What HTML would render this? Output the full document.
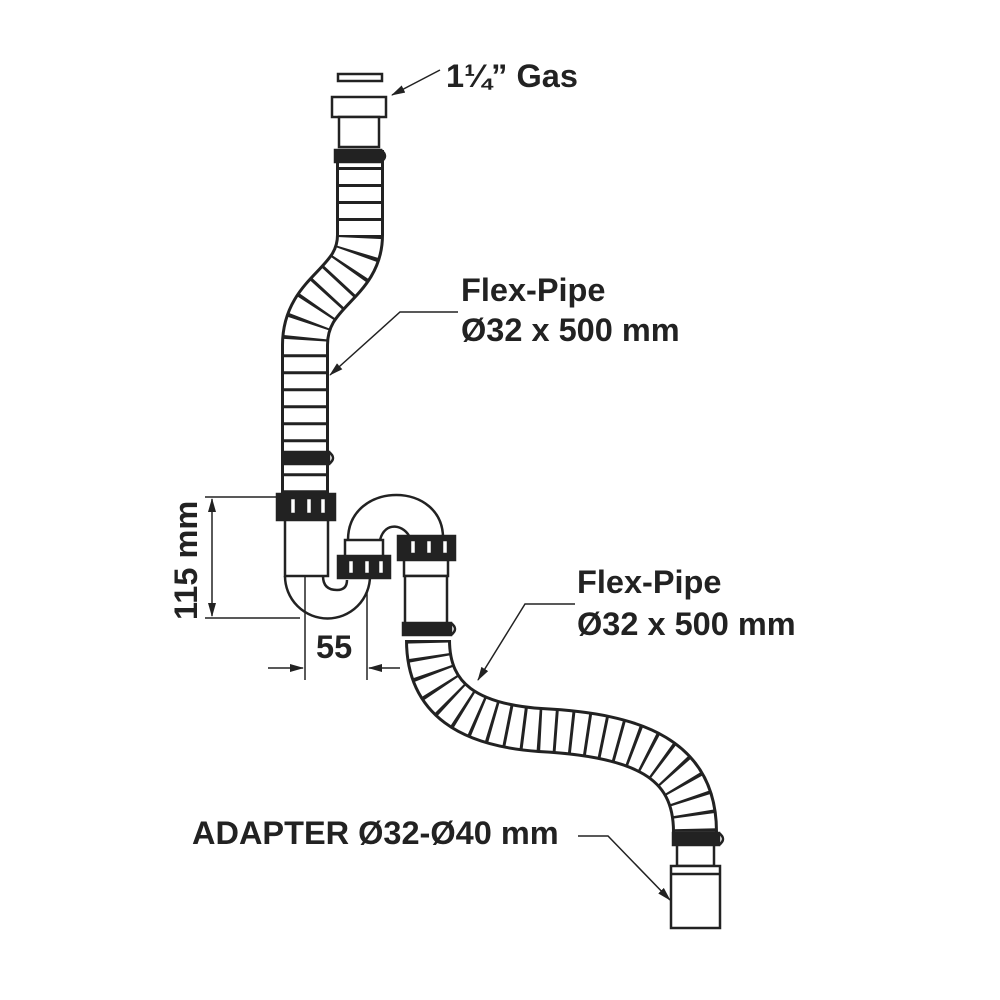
<!DOCTYPE html>
<html><head><meta charset="utf-8"><style>
html,body{margin:0;padding:0;background:#fff;}
svg{display:block}
text{font-family:"Liberation Sans",Arial,sans-serif;fill:#222;font-weight:bold;}
</style></head><body>
<svg width="1000" height="1000" viewBox="0 0 1000 1000" xmlns="http://www.w3.org/2000/svg">
<defs>
<marker id="ar" markerWidth="14" markerHeight="8" refX="13" refY="4" orient="auto" markerUnits="userSpaceOnUse">
<path d="M0,0 L14,4 L0,8 Z" fill="#222"/></marker>
</defs>
<g fill="none" stroke="#222" stroke-width="2.5">
<path d="M360,150 L360,235 C360,285 305,290 305,345 L305,495" stroke-width="48" stroke="#222"/>
<path d="M360,150 L360,235 C360,285 305,290 305,345 L305,495" stroke-width="42" stroke="#fff"/>
<path d="M360,150 L360,235 C360,285 305,290 305,345 L305,495" stroke-width="46" stroke="#222" stroke-dasharray="3 14"/>
<rect x="338" y="74" width="44" height="7" fill="#fff"/>
<rect x="332" y="97" width="54" height="20" fill="#fff"/>
<rect x="339" y="117" width="40" height="30" fill="#fff"/>
<rect x="335" y="150" width="46" height="12" fill="#222"/>
<path d="M381,150 q8,6 0,12"/>
<rect x="283" y="452" width="46" height="12" fill="#222"/>
<path d="M329,452 q8,6 0,12"/>
<rect x="285" y="518" width="43" height="58" fill="#fff"/>
<rect x="277" y="494" width="58" height="26" fill="#222"/>
<rect x="290" y="498" width="6" height="16" fill="#fff"/><rect x="306" y="498" width="6" height="16" fill="#fff"/><rect x="320" y="498" width="6" height="16" fill="#fff"/>
<path d="M285,576 A42,42 0 0 0 370,576"/>
<path d="M323,576 q0,14 14,14 q10,0 10,-10"/>
<rect x="345" y="540" width="38" height="18" fill="#fff"/>
<rect x="338" y="556" width="52" height="22" fill="#222"/>
<rect x="348" y="560" width="6" height="14" fill="#fff"/><rect x="364" y="560" width="6" height="14" fill="#fff"/><rect x="378" y="560" width="6" height="14" fill="#fff"/>
<path d="M348,540 C348,480 445,480 443,540"/>
<path d="M380,540 C385,520 405,525 410,538"/>
<rect x="398" y="536" width="57" height="24" fill="#222"/>
<rect x="410" y="540" width="6" height="14" fill="#fff"/><rect x="426" y="540" width="6" height="14" fill="#fff"/><rect x="442" y="540" width="6" height="14" fill="#fff"/>
<rect x="404" y="560" width="44" height="16" fill="#fff"/>
<rect x="405" y="576" width="42" height="48" fill="#fff"/>
<path d="M428,640 C428,700 470,725 540,730 C640,735 695,760 695,832" stroke-width="46" stroke="#222"/>
<path d="M428,640 C428,700 470,725 540,730 C640,735 695,760 695,832" stroke-width="40" stroke="#fff"/>
<path d="M428,640 C428,700 470,725 540,730 C640,735 695,760 695,832" stroke-width="44" stroke="#222" stroke-dasharray="3 13"/>
<rect x="403" y="623" width="48" height="12" fill="#222"/>
<path d="M451,623 q8,6 0,12"/>
<rect x="673" y="833" width="46" height="12" fill="#222"/>
<path d="M719,833 q8,6 0,12"/>
<rect x="677" y="845" width="37" height="21" fill="#fff"/>
<rect x="671" y="866" width="49" height="62" fill="#fff"/>
<line x1="671" y1="874" x2="720" y2="874"/>
</g>
<g stroke="#222" stroke-width="1.5" fill="none">
<line x1="205" y1="497" x2="285" y2="497"/>
<line x1="205" y1="618" x2="300" y2="618"/>
<line x1="212" y1="560" x2="212" y2="499" marker-end="url(#ar)"/>
<line x1="212" y1="560" x2="212" y2="616" marker-end="url(#ar)"/>
<line x1="305" y1="576" x2="305" y2="680"/>
<line x1="367" y1="590" x2="367" y2="680"/>
<line x1="268" y1="668" x2="303" y2="668" marker-end="url(#ar)"/>
<line x1="400" y1="668" x2="369" y2="668" marker-end="url(#ar)"/>
<path d="M440,70 L392,95" marker-end="url(#ar)"/>
<path d="M458,312 L400,312 L330,375" marker-end="url(#ar)"/>
<path d="M575,604 L525,604 L478,680" marker-end="url(#ar)"/>
<path d="M578,836 L608,836 L670,900" marker-end="url(#ar)"/>
</g>
<g font-size="32.5">
<text x="446" y="87">1¼” Gas</text>
<text x="461" y="301">Flex-Pipe</text>
<text x="461" y="341">Ø32 x 500 mm</text>
<text x="577" y="593">Flex-Pipe</text>
<text x="577" y="635">Ø32 x 500 mm</text>
<text x="192" y="844">ADAPTER Ø32-Ø40 mm</text>
<text x="316" y="658">55</text>
<text transform="translate(197,620) rotate(-90)">115 mm</text>
</g>
</svg>
</body></html>
